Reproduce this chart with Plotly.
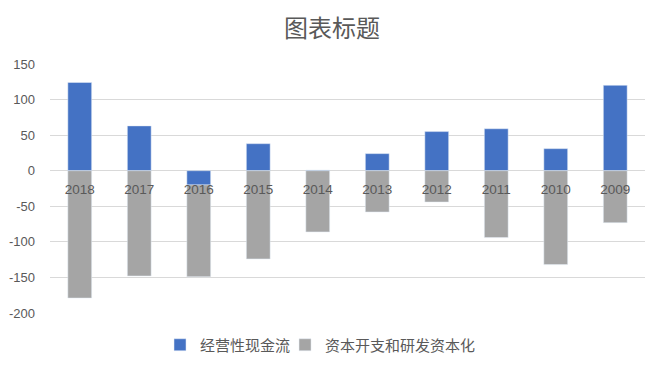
import plotly.graph_objects as go

years = ["2018", "2017", "2016", "2015", "2014", "2013", "2012", "2011", "2010", "2009"]
operating_cf = [124, 63, -20, 38, 1, 24, 55, 59, 31, 120]
capex_rd = [-179, -148, -129, -124, -86, -58, -44, -94, -132, -73]
series_names = ["经营性现金流", "资本开支和研发资本化"]
y_ticks = [150, 100, 50, 0, -50, -100, -150, -200]

ymin, ymax = -200, 150
font = "Noto Sans CJK SC, Microsoft YaHei, sans-serif"
num_font = "Liberation Sans, Arial, sans-serif"
grey = "#595959"

fig = go.Figure()
fig.add_trace(go.Bar(x=years, y=operating_cf, name=series_names[0], marker_color="#4472C4",
                     legend="legend"))
fig.add_trace(go.Bar(x=years, y=capex_rd, name=series_names[1], marker_color="#A5A5A5",
                     legend="legend2"))

legend_common = dict(orientation="h", xanchor="left", y=-0.1285, yanchor="middle",
                     font=dict(size=15, color=grey, family=font), bgcolor="rgba(0,0,0,0)")

fig.update_layout(
    width=664, height=372,
    barmode="relative", bargap=0.6,
    plot_bgcolor="white", paper_bgcolor="white",
    margin=dict(l=50, r=19, t=64, b=59, autoexpand=False),
    title=dict(text="图表标题", x=0.5, xanchor="center", y=0.923, yanchor="middle",
               font=dict(family=font, size=24, color=grey), automargin=False),
    font=dict(family=font, color=grey),
    legend=dict(x=0.1849, **legend_common),
    legend2=dict(x=0.3950, **legend_common),
    showlegend=True,
)
fig.update_yaxes(range=[ymin, ymax], tickvals=y_ticks, ticktext=[str(v) for v in y_ticks],
                 showgrid=True, gridcolor="#d9d9d9",
                 gridwidth=1, zeroline=True, zerolinecolor="#d9d9d9", zerolinewidth=1,
                 tickfont=dict(size=13, color=grey, family=num_font),
                 ticklabelstandoff=14, showline=False, automargin=False)
fig.update_xaxes(anchor="free", position=(0 - ymin) / (ymax - ymin), showline=False,
                 ticks="", tickfont=dict(size=13.5, color=grey, family=num_font),
                 ticklabelstandoff=9, showgrid=False, automargin=False)

fig.write_html("out.html", config={"displayModeBar": False},
               post_script="document.body.style.margin='0';")
